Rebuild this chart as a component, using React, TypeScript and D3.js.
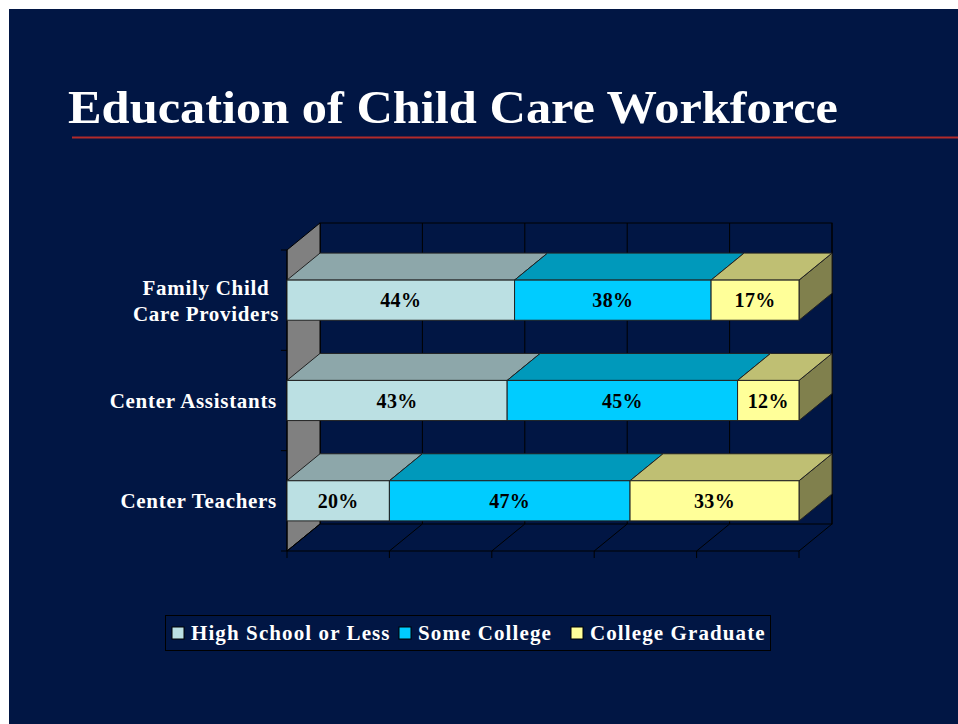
import * as d3 from "d3"

const categories = ["Family Child\nCare Providers", "Center Assistants", "Center Teachers"]
const seriesNames = ["High School or Less", "Some College", "College Graduate"]
const highSchool = [44, 43, 20]
const someCollege = [38, 45, 47]
const collegeGrad = [17, 12, 33]
const gridTicks = [0, 0.2, 0.4, 0.6, 0.8, 1]

const W = 958, H = 724
const FONT = "'Liberation Serif', 'Times New Roman', serif"
const DX = 33, DY = -27

// front / top / side shade for each series
const shades = [
  { front: "#BBE0E3", top: "#8DA7AA", side: "#5E7072" },
  { front: "#00CCFF", top: "#0099BB", side: "#00667F" },
  { front: "#FFFF99", top: "#BFBF73", side: "#80804D" },
]

const pt = (p: [number, number][]) => p.map(d => d.join(",")).join(" ")

export default function App() {
  const series = [highSchool, someCollege, collegeGrad]
  const x = d3.scaleLinear().domain([0, 1]).range([287, 799])
  const y = d3.scaleBand<string>().domain(categories).range([250, 551]).paddingInner(0.6).paddingOuter(0.3)
  const yAxis = d3.scaleBand<string>().domain(categories).range([250, 551])
  const [top, bottom] = yAxis.range()
  const [x0, x1] = x.range()

  const rows = categories.map((c, i) => {
    const vals = series.map(s => s[i])
    const total = d3.sum(vals)
    let acc = 0
    return vals.map((v, k) => {
      const a = acc / total
      acc += v
      return { c, k, v, a, b: acc / total }
    })
  })

  return (
    <svg width={W} height={H} style={{ position: "absolute", left: 0, top: 0 }} fontFamily={FONT}>
      <rect width={W} height={H} fill="#fff" />
      <rect x={9} y={9} width={W - 9} height={H - 9} fill="#011644" />

      <text x={68} y={123} fill="#fff" fontSize={46} fontWeight="bold" textLength={770} lengthAdjust="spacingAndGlyphs">
        Education of Child Care Workforce
      </text>
      <line x1={72} x2={W} y1={137.5} y2={137.5} stroke="#B22A2A" strokeWidth={2} />

      {/* back wall */}
      <rect x={x0 + DX} y={top + DY} width={x1 - x0} height={bottom - top} fill="none" stroke="#000" />
      {gridTicks.map(t => (
        <line key={"g" + t} x1={x(t) + DX} x2={x(t) + DX} y1={top + DY} y2={bottom + DY} stroke="#000" />
      ))}
      {/* left wall */}
      <polygon points={pt([[x0, top], [x0 + DX, top + DY], [x0 + DX, bottom + DY], [x0, bottom]])} fill="#808080" stroke="#000" />
      {/* floor */}
      {gridTicks.map(t => (
        <line key={"f" + t} x1={x(t)} x2={x(t) + DX} y1={bottom} y2={bottom + DY} stroke="#000" />
      ))}
      {/* axes */}
      <line x1={x0} x2={x1} y1={bottom} y2={bottom} stroke="#000" />
      {gridTicks.map(t => (
        <line key={"t" + t} x1={x(t)} x2={x(t)} y1={bottom} y2={bottom + 7} stroke="#000" />
      ))}
      <line x1={x0} x2={x0} y1={top} y2={bottom} stroke="#000" />
      {[...categories.map(c => yAxis(c)!), bottom].map((v, i) => (
        <line key={"yt" + i} x1={x0 - 6} x2={x0} y1={v} y2={v} stroke="#000" />
      ))}

      {/* bars */}
      {rows.map(row => row.map(d => {
        const y0 = y(d.c)!, y1 = y0 + y.bandwidth()
        const xa = x(d.a), xb = x(d.b)
        const s = shades[d.k]
        return (
          <g key={d.c + d.k} stroke="#222" strokeWidth={1}>
            <polygon points={pt([[xb, y0], [xb + DX, y0 + DY], [xb + DX, y1 + DY], [xb, y1]])} fill={s.side} />
            <polygon points={pt([[xa, y0], [xa + DX, y0 + DY], [xb + DX, y0 + DY], [xb, y0]])} fill={s.top} />
            <rect x={xa} y={y0} width={xb - xa} height={y1 - y0} fill={s.front} />
          </g>
        )
      }))}
      {rows.map(row => row.map(d => (
        <text key={"l" + d.c + d.k} x={(x(d.a) + x(d.b)) / 2} y={y(d.c)! + y.bandwidth() / 2} dy="0.35em"
          textAnchor="middle" fontSize={20} fontWeight="bold" fill="#000" letterSpacing={0.3}>
          {d.v}%
        </text>
      )))}

      {/* category labels */}
      {categories.map(c => {
        const lines = c.split("\n")
        const cy = y(c)! + y.bandwidth() / 2
        const multi = lines.length > 1
        return (
          <text key={"c" + c} fill="#fff" fontSize={21} fontWeight="bold" letterSpacing={0.7}
            textAnchor={multi ? "middle" : "end"}>
            {lines.map((l, j) => (
              <tspan key={j} x={multi ? 206 : 277} y={cy + (j - (lines.length - 1) / 2) * 26} dy="0.35em">{l}</tspan>
            ))}
          </text>
        )
      })}

      {/* legend */}
      <rect x={165.5} y={615.5} width={605} height={35} fill="none" stroke="#000" />
      {seriesNames.map((n, k) => {
        const lx = [172, 399, 571][k]
        return (
          <g key={n}>
            <rect x={lx} y={627} width={12} height={12} fill={shades[k].front} stroke="#000" />
            <text x={lx + 19} y={640} fill="#fff" fontSize={21} fontWeight="bold" letterSpacing={1.1}>{n}</text>
          </g>
        )
      })}
    </svg>
  )
}
